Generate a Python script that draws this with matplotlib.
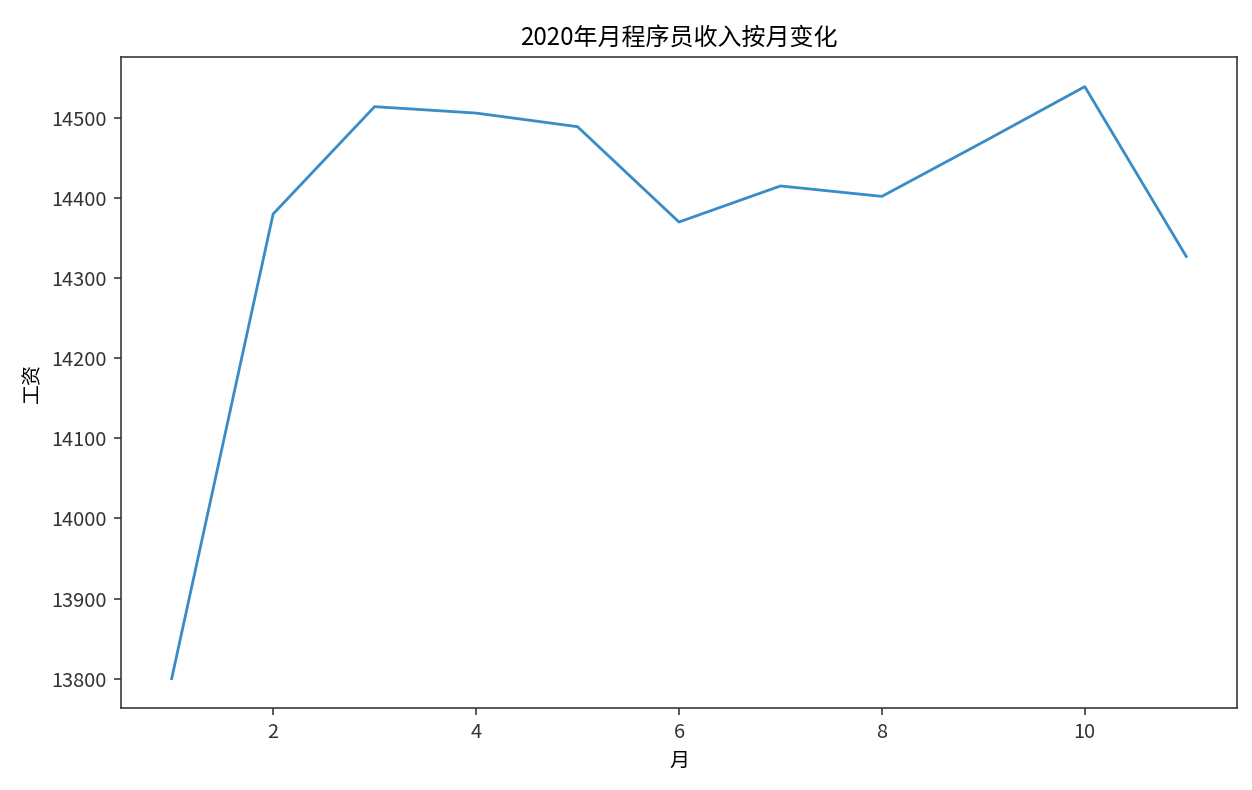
import matplotlib
matplotlib.use("Agg")
import matplotlib.pyplot as plt

plt.rcParams['font.family'] = ['Noto Sans CJK SC', 'DejaVu Sans']
plt.rcParams['axes.unicode_minus'] = False

# monthly programmer salary
months = [1, 2, 3, 4, 5, 6, 7, 8, 9, 10, 11]
salary = [13800, 14380, 14514, 14506, 14489, 14370, 14415, 14402, 14470, 14539, 14327]

DPI = 144
fig = plt.figure(figsize=(1252 / DPI, 790 / DPI), dpi=DPI)
ax = fig.add_axes([0.0966, 0.1035, 0.8914, 0.8243])

ax.plot(months, salary, color='#3a8cc6', linewidth=1.4)

ax.set_title("2020年月程序员收入按月变化")
ax.set_xlabel("月")
ax.set_ylabel("工资")

for s in ax.spines.values():
    s.set_color('#333333')
ax.tick_params(colors='#333333')

fig.savefig('out.png', dpi=DPI)
